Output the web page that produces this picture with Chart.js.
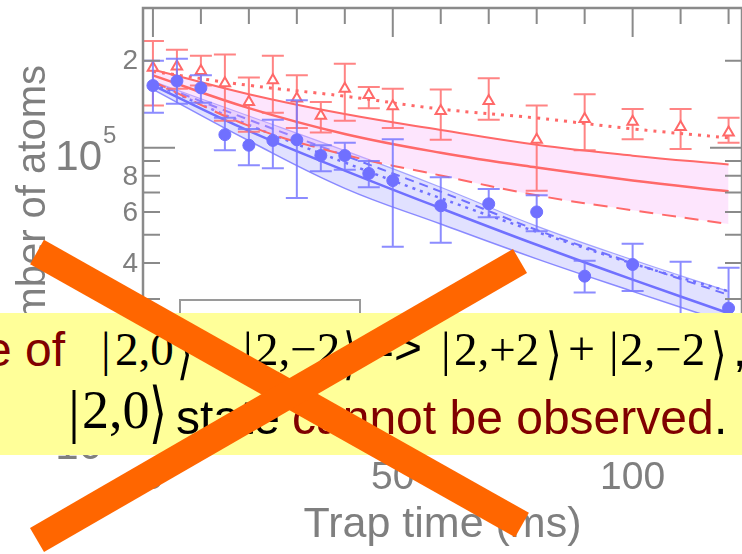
<!DOCTYPE html>
<html>
<head>
<meta charset="utf-8">
<script src="https://cdn.jsdelivr.net/npm/chart.js@4.4.0/dist/chart.umd.min.js"></script>
<style>
  html, body { margin: 0; padding: 0; background: #fff; overflow: hidden; }
  #wrap { position: relative; width: 742px; height: 554px; overflow: hidden; }
  #chart { position: absolute; left: 0; top: 0; }
  #ov { position: absolute; left: 0; top: 0; }
</style>
</head>
<body>
<div id="wrap">
  <canvas id="chart" width="750" height="554"></canvas>
  <svg id="ov" width="742" height="554">
    <rect x="0" y="313" width="742" height="142" fill="#ffff99"/>
    <!-- line 1 -->
    <g font-size="48">
      <text x="-15" y="366" fill="#800000" font-family="Liberation Sans, Arial, sans-serif">e of</text>
      <text x="101" y="366" font-family="Liberation Serif, serif">|</text>
      <text x="115" y="365" font-size="47" font-family="Liberation Serif, serif">2,0</text>
      <text transform="translate(177,373) scale(1,1.4)" font-size="40" font-family="DejaVu Sans, serif">⟩</text>
      <text x="197" y="365" font-family="Liberation Serif, serif">+</text>
      <text x="243" y="366" font-family="Liberation Serif, serif">|</text>
      <text x="255" y="365" font-size="47" font-family="Liberation Serif, serif">2,−2</text>
      <text transform="translate(343,373) scale(1,1.4)" font-size="40" font-family="DejaVu Sans, serif">⟩</text>
      <text x="366" y="364" font-family="Liberation Sans, Arial, sans-serif">=&gt;</text>
      <text x="441" y="366" font-family="Liberation Serif, serif">|</text>
      <text x="454" y="365" font-size="47" font-family="Liberation Serif, serif">2,+2</text>
      <text transform="translate(546,373) scale(1,1.4)" font-size="40" font-family="DejaVu Sans, serif">⟩</text>
      <text x="568" y="365" font-family="Liberation Serif, serif">+</text>
      <text x="609" y="366" font-family="Liberation Serif, serif">|</text>
      <text x="620" y="365" font-size="47" font-family="Liberation Serif, serif">2,−2</text>
      <text transform="translate(711,373) scale(1,1.4)" font-size="40" font-family="DejaVu Sans, serif">⟩</text>
      <text x="733" y="366" font-family="Liberation Sans, Arial, sans-serif">,</text>
    </g>
    <!-- line 2 -->
    <g>
      <text x="68" y="431" font-size="60" font-family="Liberation Serif, serif">|</text>
      <text x="82" y="428" font-size="54" font-family="Liberation Serif, serif">2,0</text>
      <text transform="translate(149,435) scale(1,1.45)" font-size="46" font-family="DejaVu Sans, serif">⟩</text>
      <text x="176" y="434" font-size="48" font-family="Liberation Sans, Arial, sans-serif">state</text>
      <text x="292" y="434" font-size="48" fill="#800000" font-family="Liberation Sans, Arial, sans-serif">cannot be observed</text>
      <text x="714" y="434" font-size="48" font-family="Liberation Sans, Arial, sans-serif">.</text>
    </g>
    <line x1="37" y1="252" x2="522" y2="525" stroke="#ff6600" stroke-width="28"/>
    <line x1="37" y1="540" x2="520" y2="261" stroke="#ff6600" stroke-width="28"/>
  </svg>
</div>
<script>
// measured data (trap time in ms, number of atoms)
const times = [0, 5, 10, 15, 20, 25, 30, 35, 40, 45, 50, 60, 70, 80, 90, 100, 110, 120];

const blueAtoms = [1.64e5, 1.70e5, 1.61e5, 1.11e5, 1.02e5, 1.06e5, 1.065e5, 9.4e4, 9.4e4, 8.15e4, 7.7e4, 6.3e4, 6.4e4, 6.0e4, 3.6e4, 3.95e4, 2.32e4, 2.79e4];
const blueHigh = [2.0e5, 2.03e5, 1.78e5, 1.27e5, 1.16e5, 1.25e5, 1.46e5, 1.02e5, 1.04e5, 9.0e4, 1.07e5, 7.9e4, 7.2e4, 6.85e4, 4.07e4, 4.66e4, 4.04e4, 3.85e4];
const blueLow = [1.32e5, 1.42e5, 1.43e5, 9.8e4, 8.7e4, 8.5e4, 6.7e4, 8.3e4, 8.4e4, 7.3e4, 4.55e4, 4.7e4, 5.75e4, 5.15e4, 3.16e4, 3.2e4, 1.3e4, 2.0e4];

const redAtoms = [1.89e5, 1.91e5, 1.84e5, 1.67e5, 1.44e5, 1.71e5, 1.48e5, 1.29e5, 1.60e5, 1.52e5, 1.39e5, 1.34e5, 1.45e5, 1.065e5, 1.256e5, 1.23e5, 1.18e5, 1.13e5];
const redHigh = [2.34e5, 2.18e5, 2.08e5, 2.10e5, 1.75e5, 2.08e5, 1.78e5, 1.44e5, 1.95e5, 1.62e5, 1.60e5, 1.59e5, 1.74e5, 1.40e5, 1.53e5, 1.36e5, 1.36e5, 1.27e5];
const redLow = [1.40e5, 1.60e5, 1.64e5, 1.24e5, 1.135e5, 1.32e5, 1.17e5, 1.13e5, 1.24e5, 1.37e5, 1.17e5, 1.065e5, 1.25e5, 7.1e4, 9.8e4, 1.07e5, 9.9e4, 1.04e5];

const fitTimes = [0, 20, 40, 60, 80, 100, 120];
const redFitUpper = [1.865e5, 1.531e5, 1.307e5, 1.152e5, 1.024e5, 9.39e4, 8.75e4];
const redFitMid = [1.778e5, 1.371e5, 1.116e5, 9.61e4, 8.54e4, 7.71e4, 7.07e4];
const redFitLower = [1.696e5, 1.19e5, 9.46e4, 8.02e4, 6.85e4, 6.08e4, 5.45e4];
const redFitDotted = [1.835e5, 1.643e5, 1.507e5, 1.36e5, 1.267e5, 1.162e5, 1.082e5];
const blueFitUpper = [1.696e5, 1.287e5, 9.77e4, 7.30e4, 5.36e4, 4.10e4, 3.19e4];
const blueFitMid = [1.643e5, 1.143e5, 8.34e4, 6.18e4, 4.62e4, 3.50e4, 2.68e4];
const blueFitLower = [1.592e5, 1.057e5, 7.24e4, 5.45e4, 4.13e4, 3.19e4, 2.48e4];
const blueFitDashed = [1.68e5, 1.25e5, 9.4e4, 7.05e4, 5.2e4, 4.0e4, 3.1e4];
const blueFitDotted = [1.67e5, 1.199e5, 8.89e4, 6.69e4, 5.12e4, 3.98e4, 3.19e4];

// axis ticks
const xTicks = [0, 10, 20, 30, 40, 50, 60, 70, 80, 90, 100, 110, 120];
const xLabels = [0, 50, 100];
const yTicks = [1e4, 2e4, 3e4, 4e4, 5e4, 6e4, 7e4, 8e4, 9e4, 1e5, 2e5];
const yLabels = [2e4, 4e4, 6e4, 8e4, 2e5];
const yDecades = [1e4, 1e5];

const BLUE = 'rgb(112,112,255)';
const RED = 'rgb(255,105,105)';
const SANS = '"Liberation Sans", Arial, sans-serif';

const pts = (xs, ys) => xs.map((t, i) => ({ x: t, y: ys[i] }));

const curve = (data, color, width, dash, extra) => Object.assign({
  data: pts(fitTimes, data),
  borderColor: color,
  borderWidth: width,
  borderDash: dash,
  pointRadius: 0,
  tension: 0.4,
  fill: false
}, extra || {});

const errorBars = {
  id: 'errorBars',
  beforeDatasetDraw(chart, args) {
    const ds = chart.data.datasets[args.index];
    if (!ds.errLow) return;
    const { ctx, chartArea: a, scales: { x, y } } = chart;
    ctx.save();
    ctx.beginPath();
    ctx.rect(a.left, a.top, a.right - a.left, a.bottom - a.top);
    ctx.clip();
    ctx.strokeStyle = ds.errColor;
    ctx.lineWidth = 2;
    ctx.beginPath();
    ds.data.forEach((p, i) => {
      const px = x.getPixelForValue(p.x);
      const hi = y.getPixelForValue(ds.errHigh[i]);
      const lo = y.getPixelForValue(ds.errLow[i]);
      ctx.moveTo(px, hi); ctx.lineTo(px, lo);
      ctx.moveTo(px - 11, hi); ctx.lineTo(px + 11, hi);
      ctx.moveTo(px - 11, lo); ctx.lineTo(px + 11, lo);
    });
    ctx.stroke();
    ctx.restore();
  }
};

const frame = {
  id: 'frame',
  afterDraw(chart) {
    const { ctx, chartArea: a, scales: { x, y } } = chart;
    ctx.save();
    // legend box (mostly covered by the note)
    ctx.fillStyle = '#fff';
    ctx.strokeStyle = '#9a9a9a';
    ctx.lineWidth = 2;
    ctx.fillRect(180, 300, 180, 120);
    ctx.strokeRect(180, 300, 180, 120);

    ctx.strokeStyle = '#8a8a8a';
    ctx.lineWidth = 2.5;
    ctx.strokeRect(a.left, a.top, a.right - a.left, a.bottom - a.top);
    ctx.lineWidth = 2;
    ctx.beginPath();
    xTicks.forEach(t => {
      const px = x.getPixelForValue(t);
      const len = t % 50 === 0 ? 29 : 16;
      ctx.moveTo(px, a.top); ctx.lineTo(px, a.top + len);
      ctx.moveTo(px, a.bottom); ctx.lineTo(px, a.bottom - len);
    });
    yTicks.forEach(v => {
      const py = y.getPixelForValue(v);
      const len = yDecades.includes(v) ? 32 : 17;
      ctx.moveTo(a.left, py); ctx.lineTo(a.left + len, py);
      ctx.moveTo(a.right, py); ctx.lineTo(a.right - len, py);
    });
    ctx.stroke();

    ctx.fillStyle = '#7f7f7f';
    ctx.textBaseline = 'middle';
    ctx.textAlign = 'right';
    ctx.font = '28px ' + SANS;
    yLabels.forEach(v => {
      const m = Math.round(v / Math.pow(10, Math.floor(Math.log10(v))));
      ctx.fillText(String(m), 138, y.getPixelForValue(v) + 1);
    });
    ctx.textBaseline = 'alphabetic';
    yDecades.forEach(v => {
      const py = y.getPixelForValue(v);
      ctx.textAlign = 'right';
      ctx.font = '42px ' + SANS;
      ctx.fillText('10', 102, py + 22);
      ctx.textAlign = 'left';
      ctx.font = '24px ' + SANS;
      ctx.fillText(String(Math.round(Math.log10(v))), 103, py - 5);
    });

    ctx.textAlign = 'center';
    ctx.textBaseline = 'middle';
    ctx.font = '39px ' + SANS;
    xLabels.forEach(t => ctx.fillText(String(t), x.getPixelForValue(t), 478));

    ctx.textBaseline = 'alphabetic';
    ctx.font = '43px ' + SANS;
    ctx.fillText('Trap time (ms)', (a.left + a.right) / 2, 537);

    ctx.translate(45, 65);
    ctx.rotate(-Math.PI / 2);
    ctx.textAlign = 'right';
    ctx.font = '40px ' + SANS;
    ctx.fillText('Number of atoms', 0, 0);
    ctx.restore();
  }
};

new Chart(document.getElementById('chart'), {
  type: 'line',
  data: {
    datasets: [
      {
        data: pts(times, blueAtoms),
        errLow: blueLow, errHigh: blueHigh, errColor: 'rgba(120,120,255,0.85)',
        showLine: false,
        pointStyle: 'circle',
        pointRadius: 6,
        pointBackgroundColor: BLUE,
        pointBorderColor: BLUE,
        pointBorderWidth: 1
      },
      {
        data: pts(times, redAtoms),
        errLow: redLow, errHigh: redHigh, errColor: 'rgba(255,110,110,0.85)',
        showLine: false,
        pointStyle: 'triangle',
        pointRadius: 6,
        pointBackgroundColor: '#fff',
        pointBorderColor: RED,
        pointBorderWidth: 2
      },
      curve(redFitDotted, RED, 3, [3, 6]),
      curve(redFitUpper, RED, 2, []),
      curve(redFitMid, RED, 2.5, []),
      curve(redFitLower, RED, 2, [14, 9], { fill: { target: 3 }, backgroundColor: 'rgba(250,170,250,0.3)' }),
      curve(blueFitDotted, BLUE, 2.5, [3, 5]),
      curve(blueFitDashed, BLUE, 2, [9, 6]),
      curve(blueFitMid, BLUE, 2.5, []),
      curve(blueFitUpper, 'rgba(112,112,255,0.6)', 1.2, []),
      curve(blueFitLower, 'rgba(112,112,255,0.8)', 1.5, [], { fill: { target: 9 }, backgroundColor: 'rgba(120,120,255,0.22)' })
    ]
  },
  options: {
    responsive: false,
    animation: false,
    devicePixelRatio: 1,
    layout: { padding: { top: 4, right: 4, left: 0, bottom: 0 } },
    plugins: { legend: { display: false }, tooltip: { enabled: false } },
    scales: {
      x: {
        type: 'linear', min: -2.07, max: 122.8,
        grid: { display: false }, border: { display: false }, ticks: { display: false },
        afterFit: s => { s.height = 102; }
      },
      y: {
        type: 'logarithmic', min: 8885, max: 304000,
        grid: { display: false }, border: { display: false }, ticks: { display: false },
        afterFit: s => { s.width = 143; }
      }
    }
  },
  plugins: [errorBars, frame]
});
</script>
</body>
</html>
